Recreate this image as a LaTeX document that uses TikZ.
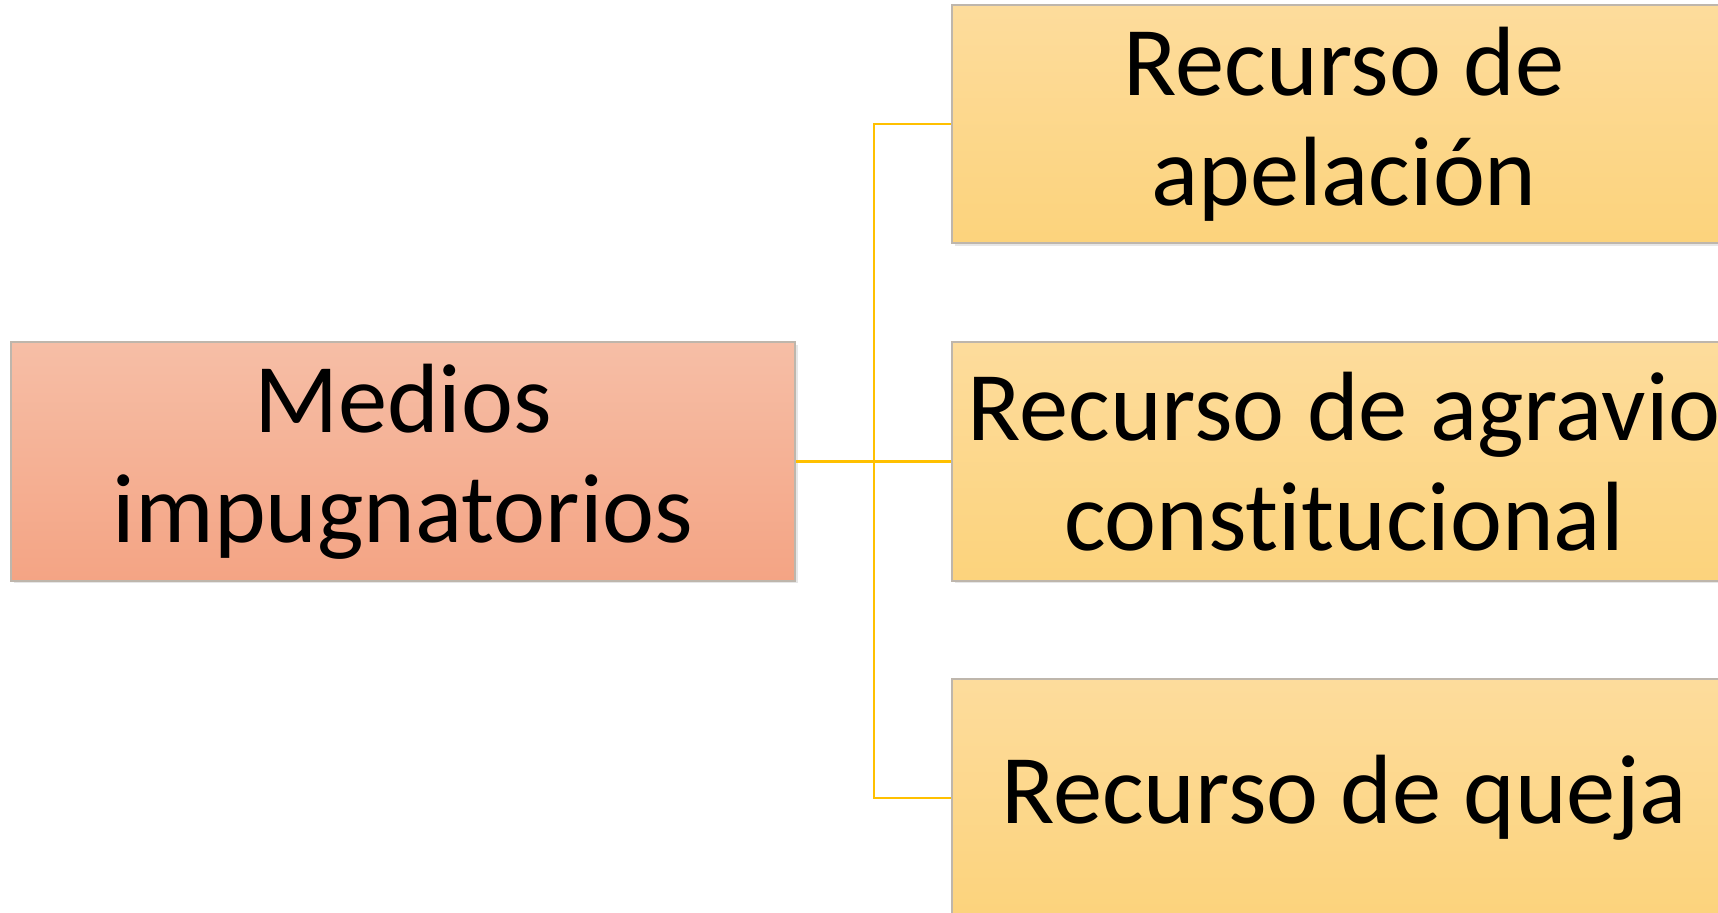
\documentclass[tikz,border=0pt]{standalone}
\usepackage{fontspec}
\setmainfont{Carlito}[Ligatures={NoCommon,NoRare}]
\usetikzlibrary{shadows}

\definecolor{saumonhaut}{RGB}{246,190,166}
\definecolor{saumonbas}{RGB}{244,164,132}
\definecolor{orhaut}{RGB}{253,220,156}
\definecolor{orbas}{RGB}{252,211,124}
\definecolor{lienor}{RGB}{255,192,0}
\definecolor{bordgris}{RGB}{190,182,172}

\tikzset{
  boite/.style={draw=bordgris, line width=0.6pt, minimum width=7.84cm, minimum height=2.38cm,
    align=center, font=\fontsize{28}{31.3}\selectfont,
    drop shadow={opacity=0.2, shadow xshift=0.8pt, shadow yshift=-0.8pt}},
  racine/.style={boite, top color=saumonhaut, bottom color=saumonbas},
  feuille/.style={boite, top color=orhaut, bottom color=orbas},
  lien/.style={lienor, line width=0.6pt}
}

\begin{document}
\begin{tikzpicture}[x=0.01cm, y=-0.01cm]
  % Cadre de l'image
  \useasboundingbox (0,0) rectangle (1718,913);
  \clip (0,0) rectangle (1718,913);

  % Le point de départ
  \node[racine] (medios) at (403,461.5) {Medios\\impugnatorios};

  % Les trois recours
  \node[feuille] (apelacion) at (1344,124) {Recurso de\\apelación};
  \node[feuille] (agravio) at (1344,461.5) {Recurso de agravio\\constitucional};
  \node[feuille] (queja) at (1344,798) {Recurso de queja};

  % Les liens
  \coordinate (coude) at (874,0);
  \draw[lien] (medios.east) -- (agravio.west);
  \draw[lien] (apelacion.west) -- (apelacion.west -| coude) -- (queja.west -| coude) -- (queja.west);
\end{tikzpicture}
\end{document}
